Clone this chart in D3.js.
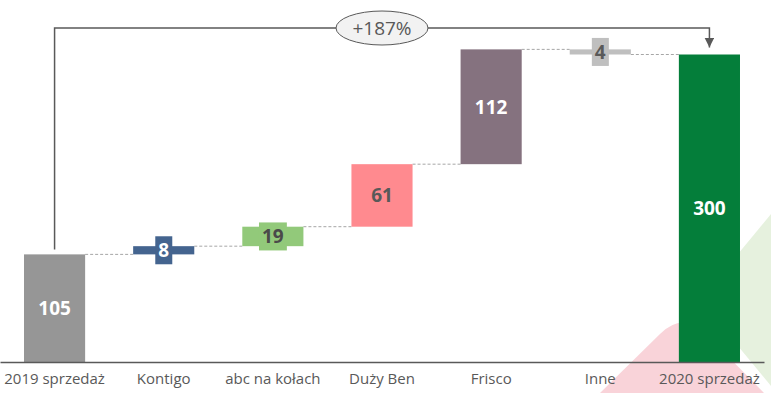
<!DOCTYPE html>
<html>
<head>
<meta charset="utf-8">
<script src="https://cdn.jsdelivr.net/npm/d3@7"></script>
<style>
  body { margin: 0; background: #fff; }
  svg { display: block; font-family: "Open Sans", sans-serif; }
</style>
</head>
<body>
<svg width="771" height="393"></svg>
<script>
var categories = ["2019 sprzedaż", "Kontigo", "abc na kołach", "Duży Ben", "Frisco", "Inne", "2020 sprzedaż"];
var values = [105, 8, 19, 61, 112, -5, 300];
var kinds = ["total", "delta", "delta", "delta", "delta", "delta", "total"];
var valueLabels = ["105", "8", "19", "61", "112", "4", "300"];
var barColors = ["#969696", "#44648f", "#92c97a", "#ff8a8f", "#85727f", "#bfbfbf", "#047e3a"];
var textColors = ["#ffffff", "#ffffff", "#4a4a4a", "#595959", "#ffffff", "#595959", "#ffffff"];
var growthLabel = "+187%";

var svg = d3.select("svg"),
  width = +svg.attr("width"),
  height = +svg.attr("height");

var base = 362;

var x = d3.scaleBand()
  .domain(categories)
  .range([0, 764])
  .paddingInner(0.44)
  .paddingOuter(0.22);

var y = d3.scaleLinear()
  .domain([0, 300])
  .range([base, 54.5]);

// background shapes bottom right
svg.append("path")
  .attr("d", "M771,214 L700,300 L771,386 Z")
  .attr("fill", "#e6f1de");
svg.append("path")
  .attr("d", "M600,393 L660,334 Q682,312 704,332 L764,393 Z")
  .attr("fill", "#f9d3d9");

// waterfall steps
var bars = [];
var run = 0;
values.forEach(function(v, i) {
  var b = {cat: categories[i], i: i};
  if (kinds[i] == "total") {
    b.y0 = 0; b.y1 = v; run = v;
  } else {
    b.y0 = run; b.y1 = run + v; run = run + v;
  }
  b.end = kinds[i] == "total" ? v : b.y1;
  bars.push(b);
});

// dotted connectors
var conn = bars.slice(0, bars.length - 1);
svg.append("g").selectAll("line")
  .data(conn)
  .enter().append("line")
  .attr("x1", function(d) { return x(d.cat) + x.bandwidth(); })
  .attr("x2", function(d) { return x(categories[d.i + 1]); })
  .attr("y1", function(d) { return y(d.end); })
  .attr("y2", function(d) { return y(d.end); })
  .attr("stroke", "#a6a6a6")
  .attr("stroke-width", 1)
  .attr("stroke-dasharray", "3,2");

svg.append("g").selectAll("rect")
  .data(bars)
  .enter().append("rect")
  .attr("x", function(d) { return x(d.cat); })
  .attr("width", x.bandwidth())
  .attr("y", function(d) { return y(Math.max(d.y0, d.y1)); })
  .attr("height", function(d) { return Math.abs(y(d.y0) - y(d.y1)); })
  .attr("fill", function(d) { return barColors[d.i]; });

// value labels, with a box behind them on thin bars
var lab = svg.append("g").selectAll("g")
  .data(bars)
  .enter().append("g")
  .attr("transform", function(d) {
    return "translate(" + (x(d.cat) + x.bandwidth() / 2) + "," + y((d.y0 + d.y1) / 2) + ")";
  });

lab.append("text")
  .attr("text-anchor", "middle")
  .attr("dy", "0.36em")
  .attr("font-size", 19)
  .attr("font-weight", "bold")
  .attr("fill", function(d) { return textColors[d.i]; })
  .text(function(d) { return valueLabels[d.i]; });

lab.each(function(d) {
  var h = Math.abs(y(d.y0) - y(d.y1));
  if (h < 30) {
    var g = d3.select(this);
    var bb = g.select("text").node().getBBox();
    g.insert("rect", "text")
      .attr("x", bb.x - 3)
      .attr("width", bb.width + 6)
      .attr("y", -14)
      .attr("height", 28)
      .attr("fill", barColors[d.i]);
  }
});

// axis
var axis = svg.append("g")
  .attr("transform", "translate(0," + base + ")")
  .call(d3.axisBottom(x).tickSize(0).tickPadding(11));
axis.select(".domain").attr("stroke", "#595959").attr("stroke-width", 1.5);
axis.selectAll("text").attr("font-size", 15).attr("fill", "#595959")
  .attr("font-family", "Open Sans, sans-serif");

// growth bracket
svg.append("defs").append("marker")
  .attr("id", "arr")
  .attr("viewBox", "0 0 10 10")
  .attr("refX", 10).attr("refY", 5)
  .attr("markerWidth", 10).attr("markerHeight", 10)
  .attr("markerUnits", "userSpaceOnUse")
  .attr("orient", "auto")
  .append("path")
  .attr("d", "M0,0 L10,5 L0,10 Z")
  .attr("fill", "#595959");

var xa = x(categories[0]) + x.bandwidth() / 2;
var xb = x(categories[6]) + x.bandwidth() / 2;
var topY = 28;
svg.append("path")
  .attr("d", "M" + xa + "," + (y(values[0]) - 5) + " V" + topY + " H" + xb + " V" + (y(values[6]) - 7))
  .attr("fill", "none")
  .attr("stroke", "#595959")
  .attr("stroke-width", 1.5)
  .attr("marker-end", "url(#arr)");

svg.append("ellipse")
  .attr("cx", (xa + xb) / 2)
  .attr("cy", topY)
  .attr("rx", 46)
  .attr("ry", 17)
  .attr("fill", "#f2f2f2")
  .attr("stroke", "#595959")
  .attr("stroke-width", 1);

svg.append("text")
  .attr("x", (xa + xb) / 2)
  .attr("y", topY)
  .attr("dy", "0.36em")
  .attr("text-anchor", "middle")
  .attr("font-size", 19)
  .attr("fill", "#595959")
  .text(growthLabel);
</script>
</body>
</html>
